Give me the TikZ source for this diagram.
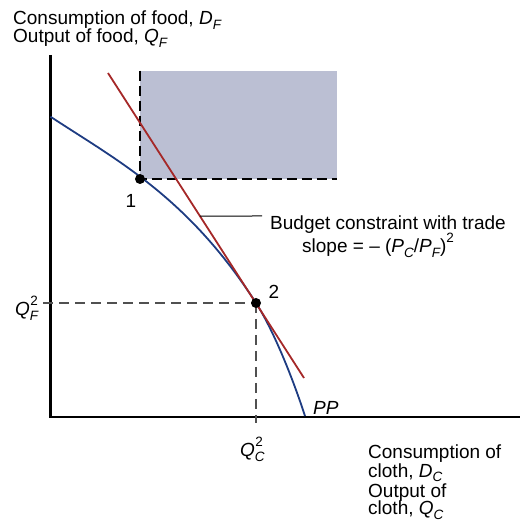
\documentclass[tikz,border=0pt]{standalone}
\usepackage{fontspec}
\setmainfont{Liberation Sans}
\usetikzlibrary{calc}
\definecolor{ppblue}{RGB}{30,60,130}
\definecolor{bcred}{RGB}{165,40,40}
\definecolor{shadefill}{RGB}{187,191,211}
\definecolor{dashgray}{RGB}{80,80,80}
\newcommand\mysub[1]{\raisebox{-0.24em}{\fontsize{13.5}{13.5}\selectfont\itshape #1}}
\newcommand\myvar[2]{\textit{#1}\mysub{#2}}
\newcommand\myvarsq[2]{\textit{#1}\makebox[0pt][l]{\raisebox{0.55em}{\fontsize{13.5}{13.5}\selectfont\kern0.5pt 2}}\mysub{#2}}
\begin{document}
\begin{tikzpicture}[x=1pt,y=1pt,font=\fontsize{19}{19}\selectfont,
  axisline/.style={line width=2.2pt,black},
  ppcurve/.style={line width=1.8pt,ppblue},
  bcline/.style={line width=1.8pt,bcred},
  guide/.style={line width=1.4pt,dashgray,dash pattern=on 10pt off 6pt},
  rectdash/.style={line width=1.4pt,black,dash pattern=on 10pt off 5pt},
  dot/.style={circle,fill=black,inner sep=0pt,minimum size=10pt},
  lbl/.style={inner sep=0pt,anchor=base west},
  num/.style={inner sep=0pt,anchor=base}]
\useasboundingbox (0,0) rectangle (520,526);
% shaded region
\fill[shadefill] (140,347) rectangle (337,455.3);
\draw[rectdash] (140,455.3) -- (140,347) -- (337,347);
% axes
\coordinate (O) at (50.5,109.3);
\coordinate (ytop) at (50.5,471);
\coordinate (xend) at (520,109.3);
\draw[axisline] (ytop) -- (O) -- (xend);
% points
\coordinate (c1) at (140,347);
\coordinate (c2) at (256,223);
% guides
\coordinate (qfl) at (43,223);
\coordinate (qcb) at (256,103);
\draw[guide] (qfl) -- (c2);
\draw[guide] (c2) -- (qcb);
% PP curve
\coordinate (ppA) at (50.5,409.3);
\coordinate (ppE) at (305,110);
\draw[ppcurve] (ppA) .. controls (118,365) and (188,328.7) .. (c2)
  .. controls (272,198.1) and (291,153) .. (ppE);
% budget line
\coordinate (r1) at (108,453);
\coordinate (r2) at (304,148);
\draw[bcline] (r1) -- (r2);
\node[dot] (p1) at (c1) {};
\node[dot] (p2) at (c2) {};
% leader
\coordinate (lead) at ($(r1)!0.469!(r2)$);
\coordinate (leadend) at (262,310);
\draw[line width=1pt] (lead) -- (leadend);
% labels
\node[lbl] (ylab1) at (13,501) {Consumption of food, \myvar{D}{F}};
\node[lbl] (ylab2) at (13,483) {Output of food, \myvar{Q}{F}};
\node[num] (n1) at (131,318) {1};
\node[num] (n2) at (274,227.3) {2};
\node[lbl] (qf) at (15,210) {\myvarsq{Q}{F}};
\node[lbl] (qc) at (240,69) {\myvarsq{Q}{C}};
\node[lbl] (pp) at (313,111.5) {\textit{PP}};
\node[lbl] (bc1) at (270,296.5) {Budget constraint with trade};
\node[lbl] (bc2) at (302,273.5) {slope = – (\myvar{P}{C}/\myvar{P}{F})\raisebox{0.5em}{\fontsize{13.5}{13.5}\selectfont 2}};
\node[lbl] (xl1) at (368,67.7) {Consumption of};
\node[lbl] (xl2) at (368,48.7) {cloth, \myvar{D}{C}};
\node[lbl] (xl3) at (368,28.8) {Output of};
\node[lbl] (xl4) at (368,11) {cloth, \myvar{Q}{C}};
\end{tikzpicture}
\end{document}
